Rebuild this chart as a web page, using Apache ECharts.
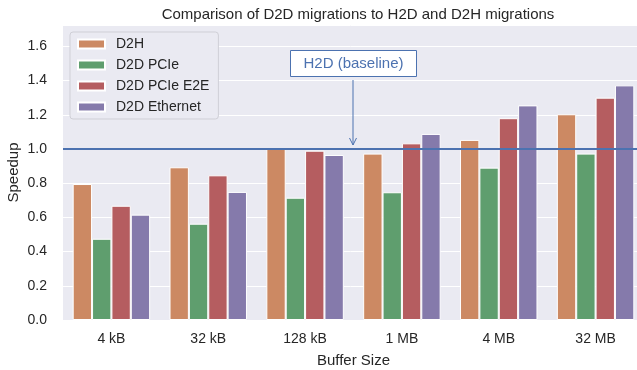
<!DOCTYPE html>
<html><head><meta charset="utf-8">
<script src="https://cdn.jsdelivr.net/npm/echarts@6/dist/echarts.min.js"></script>
<style>html,body{margin:0;padding:0;background:#fff}#c{width:637px;height:370px}</style>
</head><body><div id="c"></div>
<script>
const categories = ['4 kB','32 kB','128 kB','1 MB','4 MB','32 MB'];
const d2h        = [0.795, 0.893, 1.005, 0.973, 1.053, 1.203];
const d2dPcie    = [0.475, 0.563, 0.715, 0.747, 0.891, 0.973];
const d2dPcieE2E = [0.668, 0.846, 0.990, 1.033, 1.180, 1.300];
const d2dEth     = [0.616, 0.749, 0.965, 1.088, 1.255, 1.372];
const seriesNames = ['D2H','D2D PCIe','D2D PCIe E2E','D2D Ethernet'];
const colors = ['#cc8963','#5f9e6e','#b55d60','#857aab'];
const baseline = 1.0;
const FONT = 'Liberation Sans, Arial, sans-serif';
const chart = echarts.init(document.getElementById('c'));
const allData = [d2h, d2dPcie, d2dPcieE2E, d2dEth];
const series = allData.map((d, i) => ({
  name: seriesNames[i], type: 'bar', data: d,
  barGap: '0%', barCategoryGap: '20%',
  itemStyle: {color: colors[i], borderColor: '#ffffff', borderWidth: 1},
  emphasis: {disabled: true}
}));
series[0].markLine = {
  silent: true, symbol: 'none', label: {show: false},
  lineStyle: {color: '#4c72b0', width: 2, type: 'solid'},
  data: [{yAxis: baseline}]
};
chart.setOption({
  animation: false,
  textStyle: {fontFamily: FONT},
  title: {text: 'Comparison of D2D migrations to H2D and D2H migrations', left: 353, textAlign: 'center', top: 2,
    textStyle: {fontFamily: FONT, fontSize: 15, fontWeight: 'normal', color: '#262626'}},
  grid: {left: 63, right: -7, top: 25, bottom: 50, outerBoundsMode: 'none', containLabel: false,
    show: true, backgroundColor: '#eaeaf2', borderWidth: 0},
  legend: {left: 70, top: 32, orient: 'vertical', itemWidth: 27, itemHeight: 9, itemGap: 7,
    padding: [5, 9, 5, 7], backgroundColor: '#eaeaf2', borderColor: '#cfcfd6', borderWidth: 1, borderRadius: 3,
    icon: 'rect', textStyle: {fontFamily: FONT, fontSize: 14, color: '#262626', padding: [0, 0, 0, 6]}, data: seriesNames},
  xAxis: {type: 'category', data: categories, name: 'Buffer Size', nameLocation: 'middle', nameGap: 33, nameMoveOverlap: false,
    nameTextStyle: {fontFamily: FONT, fontSize: 15, color: '#262626'},
    axisLine: {show: false}, axisTick: {show: false}, splitLine: {show: false},
    axisLabel: {fontFamily: FONT, fontSize: 14, color: '#262626', margin: 12}},
  yAxis: {type: 'value', min: 0, max: 1.725, interval: 0.2, name: 'Speedup', nameLocation: 'middle', nameGap: 42, nameMoveOverlap: false,
    nameTextStyle: {fontFamily: FONT, fontSize: 15, color: '#262626'},
    axisLine: {show: false}, axisTick: {show: false},
    splitLine: {lineStyle: {color: '#ffffff', width: 1}},
    axisLabel: {fontFamily: FONT, fontSize: 14, color: '#262626', margin: 16,
      formatter: v => v > 1.65 ? '' : v.toFixed(1)}},
  series: series
});
const yB = chart.convertToPixel({yAxisIndex: 0}, baseline);
const xMid = 353;
chart.setOption({graphic: [
  {type: 'rect', shape: {x: 290.5, y: 50.5, width: 126, height: 26}, style: {fill: '#ffffff', stroke: '#4c72b0', lineWidth: 1}, z: 10},
  {type: 'text', x: 353.5, y: 63.5, style: {text: 'H2D (baseline)', fill: '#4c72b0', font: '15px ' + FONT, align: 'center', verticalAlign: 'middle'}, z: 11},
  {type: 'line', shape: {x1: xMid, y1: 80, x2: xMid, y2: yB - 4}, style: {stroke: '#4c72b0', lineWidth: 1}, z: 10},
  {type: 'polyline', shape: {points: [[xMid - 3.5, yB - 11], [xMid, yB - 4], [xMid + 3.5, yB - 11]]}, style: {stroke: '#4c72b0', lineWidth: 1, fill: null}, z: 10}
]});
</script></body></html>
